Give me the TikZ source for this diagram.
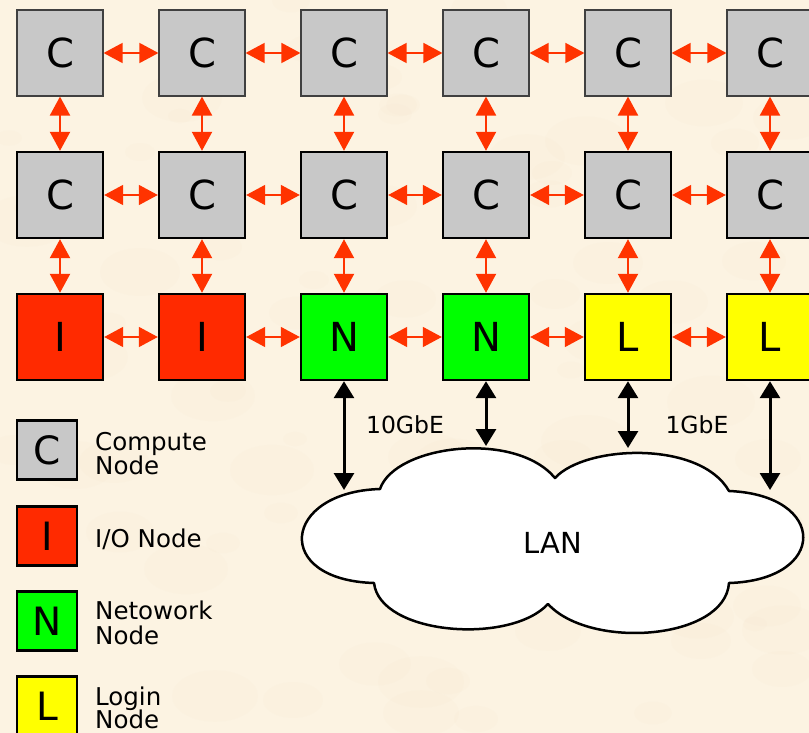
\documentclass[tikz,border=0pt]{standalone}
\usepackage{fontspec}
\setmainfont{DejaVu Sans}
\usetikzlibrary{arrows.meta,calc}

\definecolor{parch}{RGB}{252,243,226}
\definecolor{parchdark}{RGB}{238,220,188}
\definecolor{cgray}{RGB}{200,200,200}
\definecolor{ired}{RGB}{255,42,0}
\definecolor{ngreen}{RGB}{0,255,0}
\definecolor{lyellow}{RGB}{255,255,0}
\definecolor{linkred}{RGB}{255,51,0}

\tikzset{
  nodebox/.style={draw=black, line width=2.4pt, minimum width=86pt,
    minimum height=86pt, inner sep=0pt, font=\fontsize{40}{40}\selectfont},
  toprow/.style={nodebox, draw=black!75, line width=1.2pt},
  compute/.style={fill=cgray},
  iobox/.style={fill=ired},
  netbox/.style={fill=ngreen},
  loginbox/.style={fill=lyellow},
  redtip/.tip={Triangle[length=19pt,width=20pt]},
  blacktip/.tip={Triangle[length=17pt,width=20pt]},
  link/.style={linkred, line width=1.6pt, redtip-redtip},
  vlink/.style={link, line width=2.2pt},
  lanlink/.style={black, line width=3pt, blacktip-blacktip},
  legbox/.style={draw=black, line width=2.4pt, minimum width=60pt,
    minimum height=59pt, inner sep=0pt, font=\fontsize{39}{39}\selectfont},
  legtext/.style={anchor=base west, inner sep=0pt,
    font=\fontsize{24.5}{24.5}\selectfont},
  speed/.style={inner sep=0pt, font=\fontsize{23.5}{23.5}\selectfont},
}

\begin{document}
\begin{tikzpicture}[x=1pt, y=-1pt]
  % page and faintly mottled parchment background
  \clip (0,0) rectangle (809,733);
  \fill[parch] (0,0) rectangle (809,733);
  \pgfmathsetseed{11}
  \foreach \k in {1,...,90} {
    \pgfmathsetmacro{\bx}{random(0,809)}
    \pgfmathsetmacro{\by}{random(0,733)}
    \pgfmathsetmacro{\br}{random(10,45)}
    \fill[parchdark, opacity=0.06] (\bx,\by) ellipse ({\br pt} and {0.6*\br pt});
  }

  % two rows of compute nodes
  \foreach \i/\x in {1/60,2/202,3/344,4/486,5/628,6/770} {
    \node[toprow, compute] (a\i) at (\x,53) {C};
    \node[nodebox, compute] (b\i) at (\x,195) {C};
  }

  % service row: I/O, network and login nodes
  \node[nodebox, iobox]    (r1) at (60,337)  {I};
  \node[nodebox, iobox]    (r2) at (202,337) {I};
  \node[nodebox, netbox]   (r3) at (344,337) {N};
  \node[nodebox, netbox]   (r4) at (486,337) {N};
  \node[nodebox, loginbox] (r5) at (628,337) {L};
  \node[nodebox, loginbox] (r6) at (770,337) {L};

  % mesh links
  \foreach \i [evaluate=\i as \j using int(\i+1)] in {1,...,5} {
    \draw[link] (a\i) -- (a\j);
    \draw[link] (b\i) -- (b\j);
    \draw[link] (r\i) -- (r\j);
  }
  \foreach \i in {1,...,6} {
    \draw[vlink] (a\i) -- (b\i);
    \draw[vlink] (b\i) -- (r\i);
  }

  % LAN cloud
  \draw[fill=white, line width=2.5pt, line join=round]
    (380,489) .. controls (395,445) and (515,430) .. (555,478)
              .. controls (585,445) and (700,440) .. (729,491)
              .. controls (828,495) and (828,580) .. (729,583)
              .. controls (725,640) and (590,650) .. (548,604)
              .. controls (510,645) and (380,635) .. (374,583)
              .. controls (272,580) and (282,492) .. cycle;
  \node[inner sep=0pt, font=\fontsize{29}{29}\selectfont] (lan) at (553,543) {LAN};

  % uplinks to the LAN
  \coordinate (t3) at (344,490);
  \coordinate (t4) at (486,446);
  \coordinate (t5) at (628,448);
  \coordinate (t6) at (770,490);
  \foreach \i in {3,...,6} {
    \draw[lanlink] (r\i) -- (t\i);
  }
  \node[speed] (ten) at (405,425) {10GbE};
  \node[speed] (one) at (697,425) {1GbE};

  % legend
  \node[legbox, compute]  (kc) at (47,450) {C};
  \node[legbox, iobox]    (ki) at (47,536) {I};
  \node[legbox, netbox]   (kn) at (47,621) {N};
  \node[legbox, loginbox] (kl) at (47,706) {L};
  \node[legtext] (kc1) at (95,450) {Compute};
  \node[legtext] (kc2) at (95,474) {Node};
  \node[legtext] (ki1) at (95,547) {I/O Node};
  \node[legtext] (kn1) at (95,619) {Netowork};
  \node[legtext] (kn2) at (95,644) {Node};
  \node[legtext] (kl1) at (95,705) {Login};
  \node[legtext] (kl2) at (95,728) {Node};
\end{tikzpicture}
\end{document}
